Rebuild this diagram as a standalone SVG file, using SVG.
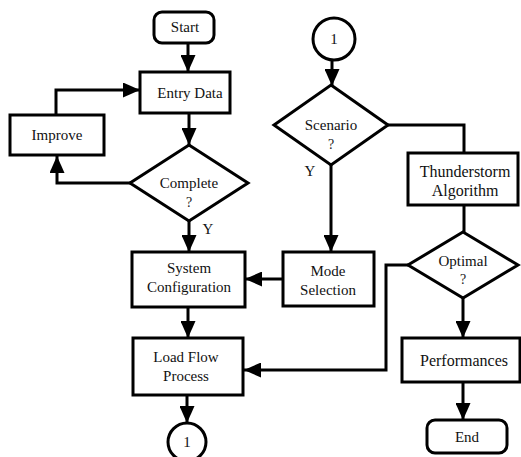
<svg xmlns="http://www.w3.org/2000/svg" width="521" height="457" viewBox="0 0 521 457">
<style>
.box{fill:#fff;stroke:#000;stroke-width:3}
.ln{fill:none;stroke:#000;stroke-width:3}
text{font-family:'Liberation Serif','Times New Roman',Times,serif;font-size:15px;fill:#111;text-anchor:middle}
.q{font-size:14px;fill:#222}
.big{font-size:16px}
</style>
<defs>
<marker id="ah" markerUnits="userSpaceOnUse" markerWidth="18" markerHeight="15" refX="17" refY="7.5" orient="auto">
<path d="M0,0 L17,7.5 L0,15 Z" fill="#000"/>
</marker>
</defs>
<rect width="521" height="457" fill="#fff"/>
<g id="connectors">
<line class="ln" x1="188" y1="43" x2="188" y2="72" marker-end="url(#ah)"/>
<polyline class="ln" points="56,115 56,90 140,90" marker-end="url(#ah)"/>
<line class="ln" x1="189" y1="113" x2="189" y2="145" marker-end="url(#ah)"/>
<polyline class="ln" points="130,183 57,183 57,156" marker-end="url(#ah)"/>
<line class="ln" x1="189" y1="221" x2="189" y2="252" marker-end="url(#ah)"/>
<line class="ln" x1="188" y1="307" x2="188" y2="338" marker-end="url(#ah)"/>
<line class="ln" x1="187" y1="395" x2="187" y2="423" marker-end="url(#ah)"/>
<line class="ln" x1="332" y1="60" x2="332" y2="86" marker-end="url(#ah)"/>
<polyline class="ln" points="388,125 464,125 464,153"/>
<line class="ln" x1="331" y1="165" x2="331" y2="252" marker-end="url(#ah)"/>
<line class="ln" x1="283" y1="279" x2="245" y2="279" marker-end="url(#ah)"/>
<line class="ln" x1="464" y1="205" x2="464" y2="232"/>
<polyline class="ln" points="408,265 386,265 386,370 244,370" marker-end="url(#ah)"/>
<line class="ln" x1="463" y1="298" x2="463" y2="338" marker-end="url(#ah)"/>
<line class="ln" x1="463" y1="382" x2="463" y2="420" marker-end="url(#ah)"/>
</g>
<g id="start"><rect class="box" x="154" y="12" width="60" height="31" rx="8"/><text x="185" y="32">Start</text></g>
<g id="entry"><rect class="box" x="140" y="72" width="90" height="41"/><text x="190" y="98">Entry Data</text></g>
<g id="improve"><rect class="box" x="10" y="115" width="94" height="40"/><text x="57" y="140">Improve</text></g>
<g id="complete"><polygon class="box" points="189,145 248,183 189,221 130,183"/><text x="189" y="188">Complete</text><text class="q" x="189" y="207">?</text></g>
<text x="208" y="234">Y</text>
<g id="sysconf"><rect class="box" x="132" y="252" width="113" height="55"/><text x="189" y="273">System</text><text x="189" y="292">Configuration</text></g>
<g id="loadflow"><rect class="box" x="133" y="338" width="110" height="57"/><text x="186" y="362">Load Flow</text><text x="186" y="381">Process</text></g>
<g id="c1b"><circle class="box" cx="187" cy="442" r="19"/><text x="187" y="447">1</text></g>
<g id="c1t"><circle class="box" cx="334" cy="39" r="21"/><text x="334" y="44">1</text></g>
<g id="scenario"><polygon class="box" points="331,85 388,125 331,165 274,125"/><text x="331" y="130">Scenario</text><text class="q" x="331" y="149">?</text></g>
<text x="310" y="176">Y</text>
<g id="thunder"><rect class="box" x="408" y="153" width="110" height="52"/><text class="big" x="465" y="177">Thunderstorm</text><text class="big" x="465" y="196">Algorithm</text></g>
<g id="mode"><rect class="box" x="283" y="252" width="91" height="54"/><text x="328" y="276">Mode</text><text x="328" y="295">Selection</text></g>
<g id="optimal"><polygon class="box" points="463,232 518,265 463,298 408,265"/><text x="463" y="266">Optimal</text><text class="q" x="463" y="284">?</text></g>
<g id="perf"><rect class="box" x="402" y="338" width="118" height="44"/><text class="big" x="464" y="366">Performances</text></g>
<g id="end"><rect class="box" x="427" y="420" width="80" height="33" rx="8"/><text x="467" y="442">End</text></g>
</svg>
